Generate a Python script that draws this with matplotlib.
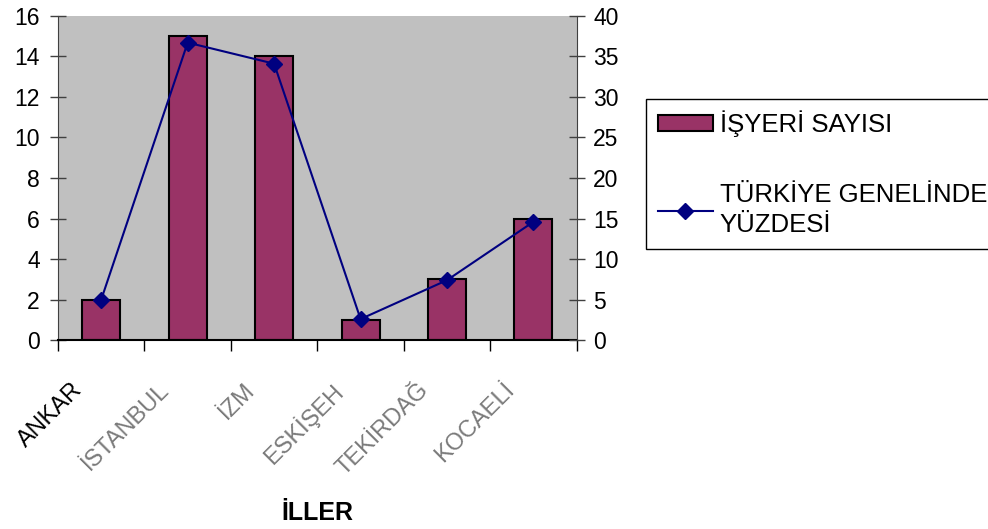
import numpy as np
import matplotlib
matplotlib.use("Agg")
import matplotlib.pyplot as plt
from matplotlib.transforms import ScaledTranslation

plt.rcParams['font.family'] = ['Liberation Sans', 'DejaVu Sans']

# data
cities = ["ANKAR", "İSTANBUL", "İZM", "ESKİŞEH", "TEKİRDAĞ", "KOCAELİ"]
isyeri = [2, 15, 14, 1, 3, 6]
yuzde = [5.0, 36.7, 34.1, 2.6, 7.4, 14.6]

fig = plt.figure(figsize=(9.88, 5.29), dpi=100)
ax = fig.add_axes([0.0587, 0.357, 0.525, 0.613])
ax.set_facecolor('#C0C0C0')

x = np.arange(len(cities))
bars = ax.bar(x, isyeri, width=0.44, color='#993366', edgecolor='black',
              linewidth=1.5, zorder=2)
ax.set_xlim(-0.5, len(cities) - 0.5)
ax.set_ylim(0, 16)
ax.set_yticks(range(0, 17, 2))

ax2 = ax.twinx()
line, = ax2.plot(x, yuzde, color='#000080', marker='D', markersize=8,
                 linewidth=1.5, zorder=3)
ax2.set_ylim(0, 40)
ax2.set_yticks(range(0, 41, 5))

for a in (ax, ax2):
    for s in a.spines.values():
        s.set_visible(False)
ax.spines['left'].set_visible(True)
ax.spines['bottom'].set_visible(True)
ax2.spines['right'].set_visible(True)
ax.spines['left'].set_color('#404040')
ax2.spines['right'].set_color('#404040')
ax.spines['bottom'].set_color('black')
ax.spines['bottom'].set_linewidth(1.5)

ax.tick_params(axis='y', direction='inout', length=12, width=1, color='#404040',
               labelsize=16.5, pad=7)
ax2.tick_params(axis='y', direction='inout', length=12, width=1, color='#404040',
                labelsize=16.5, pad=6)

# category boundary ticks below x axis
ax.set_xticks(np.arange(-0.5, len(cities), 1.0), minor=True)
ax.tick_params(axis='x', which='minor', direction='out', length=8, width=1)
ax.set_xticks(x)
ax.set_xticklabels(cities, rotation=45, ha='right', rotation_mode='anchor')
ax.tick_params(axis='x', which='major', length=0, pad=28)
for i, lab in enumerate(ax.get_xticklabels()):
    lab.set_transform(lab.get_transform() + ScaledTranslation(-0.3, 0, fig.dpi_scale_trans))
    lab.set_fontsize(17)
    lab.set_color('black' if i == 0 else '#7a7a7a')

# axis title placed in figure coords
fig.text(0.321, 0.030, 'İLLER', fontsize=18, fontweight='bold',
         ha='center', va='center')

leg = fig.legend([bars, line], ['İŞYERİ SAYISI', 'TÜRKİYE GENELİNDE\nYÜZDESİ'],
                 loc='upper left', bbox_to_anchor=(0.654, 0.813),
                 fontsize=18.5, frameon=True, fancybox=False, framealpha=1,
                 edgecolor='black', handlelength=2.15, handleheight=0.62,
                 handletextpad=0.27, labelspacing=1.8, borderpad=0.45,
                 borderaxespad=0)
leg.get_frame().set_linewidth(1)
for t in leg.get_texts():
    t.set_linespacing(1.3)

fig.savefig('out.png', dpi=100)
